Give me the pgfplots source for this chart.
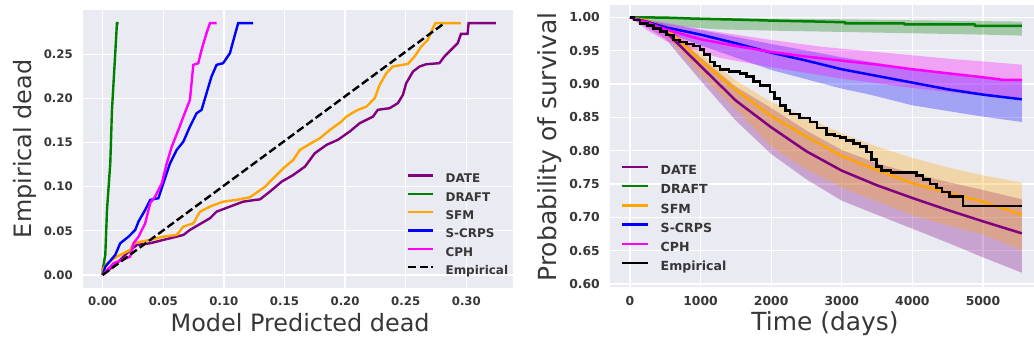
\documentclass[border=0pt]{standalone}
\usepackage{fontspec}
\setmainfont{DejaVu Sans}
\usepackage{pgfplots}
\pgfplotsset{compat=1.18}
\definecolor{bgcol}{HTML}{EAEAF2}
\definecolor{cDATE}{RGB}{128,0,128}
\definecolor{cDRAFT}{RGB}{0,128,0}
\definecolor{cSFM}{RGB}{255,165,0}
\definecolor{cSCRPS}{RGB}{0,0,255}
\definecolor{cCPH}{RGB}{255,0,255}
\definecolor{txt}{RGB}{55,55,55}
\pgfplotsset{
 sns/.style={
  scale only axis,
  axis background/.style={fill=bgcol},
  axis line style={draw=none},
  major tick length=0pt,
  grid=major,
  major grid style={white, line width=1.3bp},
  legend cell align=left,
  ticklabel style={text=txt, inner sep=0pt},
  yticklabel style={xshift=-10bp},
  xticklabel style={yshift=-9bp},
  label style={text=txt},
 }
}
\begin{document}
\begin{tikzpicture}
\path[use as bounding box] (0,0) rectangle (1034bp,346bp);
% ---------------- left panel ----------------
\begin{axis}[sns,
  at={(83bp,58.4bp)}, anchor=south west,
  width=430bp, height=277.6bp,
  xmin=-0.0162, xmax=0.3385, ymin=-0.0143, ymax=0.300,
  xtick={0,0.05,0.10,0.15,0.20,0.25,0.30},
  xticklabels={0.00,0.05,0.10,0.15,0.20,0.25,0.30},
  ytick={0,0.05,0.10,0.15,0.20,0.25},
  yticklabels={0.00,0.05,0.10,0.15,0.20,0.25},
  ticklabel style={font=\bfseries\fontsize{11.8}{14}\selectfont},
  xlabel={Model Predicted dead}, ylabel={Empirical dead},
  xlabel style={at={(axis description cs:0.505,-0.1275)}, anchor=center, font=\fontsize{24}{28}\selectfont},
  ylabel style={at={(axis description cs:-0.135,0.5)}, anchor=center, font=\fontsize{24}{28}\selectfont},
  legend image code/.code={\draw[#1] (0bp,4.3bp) -- (25bp,4.3bp);},
  legend style={draw=none, fill=none, at={(0.7535,0.4218)}, anchor=north west,
    inner sep=0pt, row sep=0pt, text=txt,
    font=\bfseries\fontsize{12}{14}\selectfont,
    nodes={text height=8.6bp, text depth=2.5bp, inner ysep=3.6bp, inner xsep=0pt},
    /tikz/every odd column/.append style={column sep=11bp}},
]
\addplot[cDATE, line width=2.4bp] coordinates {(0,0)(0.0118,0.0133)(0.020,0.0246)(0.0282,0.034)(0.0392,0.0359)(0.0501,0.0397)(0.0666,0.0453)(0.072,0.051)(0.0885,0.0642)(0.094,0.0717)(0.105,0.0774)(0.1159,0.083)(0.1299,0.0857)(0.138,0.0944)(0.1477,0.1057)(0.157,0.113)(0.1669,0.1227)(0.175,0.1378)(0.1847,0.1473)(0.194,0.153)(0.2038,0.1624)(0.212,0.1718)(0.223,0.1793)(0.227,0.187)(0.2367,0.1888)(0.2435,0.1945)(0.2477,0.2039)(0.2504,0.2171)(0.256,0.2303)(0.2614,0.236)(0.2669,0.2386)(0.2778,0.2398)(0.2819,0.2473)(0.2874,0.2549)(0.2929,0.2624)(0.2956,0.273)(0.301,0.273)(0.3019,0.2851)(0.3243,0.2851)};
\addlegendentry{DATE}
\addplot[cDRAFT, line width=2.4bp] coordinates {(0,0)(0,0.0057)(0.0022,0.0227)(0.0036,0.0737)(0.0063,0.1265)(0.0077,0.1869)(0.0104,0.2511)(0.0118,0.2851)(0.0132,0.2851)};
\addlegendentry{DRAFT}
\addplot[cSFM, line width=2.4bp] coordinates {(0,0)(0,0.0057)(0.0036,0.0133)(0.0118,0.0208)(0.0227,0.0283)(0.0255,0.0359)(0.0392,0.0397)(0.0501,0.0434)(0.0611,0.0453)(0.0666,0.0548)(0.0748,0.0585)(0.0803,0.0717)(0.0885,0.0774)(0.0994,0.083)(0.1104,0.085)(0.1216,0.0880)(0.134,0.1000)(0.1422,0.1114)(0.149,0.1208)(0.1572,0.1302)(0.1627,0.1416)(0.1696,0.1473)(0.1792,0.1548)(0.1874,0.1642)(0.197,0.1737)(0.2011,0.1793)(0.2093,0.1861)(0.2176,0.1907)(0.2244,0.2001)(0.2285,0.2152)(0.234,0.2284)(0.2394,0.236)(0.2518,0.239)(0.2573,0.2473)(0.2628,0.2586)(0.2683,0.2662)(0.271,0.2756)(0.2745,0.2851)(0.2956,0.2851)};
\addlegendentry{SFM}
\addplot[cSCRPS, line width=2.4bp] coordinates {(0,0)(0.0022,0.0094)(0.0104,0.0227)(0.0145,0.0359)(0.0214,0.0434)(0.0269,0.051)(0.0296,0.0605)(0.0351,0.0737)(0.0392,0.0850)(0.046,0.0869)(0.0501,0.1038)(0.0556,0.1265)(0.0611,0.1416)(0.0666,0.151)(0.072,0.1680)(0.0775,0.1831)(0.0816,0.1869)(0.0857,0.2058)(0.0898,0.2247)(0.094,0.2379)(0.0994,0.2398)(0.105,0.2511)(0.1091,0.2719)(0.1118,0.2851)(0.1241,0.2851)};
\addlegendentry{S-CRPS}
\addplot[cCPH, line width=2.4bp] coordinates {(0,0)(0.009,0.0133)(0.0227,0.0207)(0.0255,0.0359)(0.0296,0.0434)(0.0351,0.0585)(0.0392,0.0812)(0.0433,0.0887)(0.0488,0.1038)(0.0529,0.1265)(0.057,0.1453)(0.0625,0.1642)(0.0666,0.1793)(0.072,0.1982)(0.0748,0.2379)(0.0789,0.2398)(0.0816,0.2549)(0.0857,0.2738)(0.0885,0.2851)(0.094,0.2851)};
\addlegendentry{CPH}
\addplot[black, line width=2.4bp, dash pattern=on 8bp off 3.5bp] coordinates {(0,0)(0.2819,0.2851)};
\addlegendentry{Empirical}
\end{axis}
% ---------------- right panel ----------------
\begin{axis}[sns,
  at={(610bp,59.3bp)}, anchor=south west,
  width=424bp, height=282.1bp,
  xmin=-283, xmax=5723, ymin=0.596, ymax=1.019,
  xtick={0,1000,2000,3000,4000,5000},
  xticklabels={0,1000,2000,3000,4000,5000},
  ytick={0.6,0.65,0.7,0.75,0.8,0.85,0.9,0.95,1.0},
  yticklabels={0.60,0.65,0.70,0.75,0.80,0.85,0.90,0.95,1.00},
  ticklabel style={font=\bfseries\fontsize{12.4}{15}\selectfont},
  xlabel={Time (days)}, ylabel={Probability of survival},
  xlabel style={at={(axis description cs:0.507,-0.132)}, anchor=center, font=\fontsize{25}{29}\selectfont},
  ylabel style={at={(axis description cs:-0.1415,0.496)}, anchor=center, font=\fontsize{25}{29}\selectfont},
  legend image code/.code={\draw[#1] (0bp,4.5bp) -- (26bp,4.5bp);},
  legend style={draw=none, fill=none, at={(0.026,0.443)}, anchor=north west,
    inner sep=0pt, row sep=0pt, text=txt,
    font=\bfseries\fontsize{12.6}{15}\selectfont,
    nodes={text height=9bp, text depth=2.6bp, inner ysep=3.8bp, inner xsep=0pt},
    /tikz/every odd column/.append style={column sep=11bp}},
]
% confidence bands
\addplot[forget plot, draw=none, fill=cDATE, fill opacity=0.3] coordinates {(0,1)(500,0.988)(1000,0.94)(1500,0.896)(2000,0.864)(2500,0.83)(3000,0.801)(3500,0.781)(4000,0.766)(4500,0.753)(5000,0.741)(5550,0.727)(5550,0.617)(5000,0.640)(4500,0.662)(4000,0.683)(3400,0.708)(3000,0.725)(2500,0.757)(2000,0.795)(1500,0.845)(1000,0.905)(500,0.968)(0,1)} -- cycle;
\addplot[forget plot, draw=none, fill=cDRAFT, fill opacity=0.3] coordinates {(0,1)(1000,0.9995)(2000,0.998)(3000,0.997)(4000,0.9955)(5550,0.9935)(5550,0.9725)(5000,0.974)(4000,0.976)(3000,0.978)(2000,0.980)(1200,0.982)(700,0.986)(300,0.993)(0,1)} -- cycle;
\addplot[forget plot, draw=none, fill=cSFM, fill opacity=0.3] coordinates {(0,1)(500,0.99)(1000,0.946)(1500,0.905)(2000,0.873)(2500,0.85)(3000,0.826)(3500,0.806)(4000,0.789)(4500,0.775)(5000,0.763)(5550,0.752)(5550,0.651)(5000,0.674)(4500,0.688)(4000,0.703)(3500,0.724)(3000,0.745)(2500,0.772)(2000,0.806)(1500,0.862)(1000,0.913)(500,0.975)(0,1)} -- cycle;
\addplot[forget plot, draw=none, fill=cSCRPS, fill opacity=0.3] coordinates {(0,1)(500,0.99)(1000,0.981)(2000,0.96)(3000,0.94)(4000,0.923)(5000,0.910)(5550,0.904)(5550,0.843)(5000,0.851)(4000,0.868)(3400,0.884)(3000,0.893)(2000,0.921)(1000,0.958)(500,0.978)(0,1)} -- cycle;
\addplot[forget plot, draw=none, fill=cCPH, fill opacity=0.3] coordinates {(0,1)(500,0.992)(1000,0.982)(1500,0.974)(2000,0.966)(2700,0.956)(3500,0.948)(4500,0.938)(5550,0.929)(5550,0.876)(5000,0.882)(4000,0.894)(3000,0.908)(2000,0.925)(1275,0.939)(800,0.955)(500,0.965)(250,0.98)(0,1)} -- cycle;
% mean curves
\addplot[cDATE, line width=2.5bp] coordinates {(0,1)(250,0.994)(500,0.979)(750,0.953)(1000,0.927)(1500,0.875)(2000,0.835)(2500,0.799)(3000,0.770)(3500,0.748)(4000,0.729)(4500,0.711)(5000,0.694)(5550,0.676)};
\addlegendentry{DATE}
\addplot[cDRAFT, line width=2.5bp] coordinates {(0,1)(500,0.9995)(900,0.998)(1500,0.9965)(2000,0.995)(2691,0.9935)(3045,0.9925)(3050,0.991)(3880,0.991)(3890,0.9895)(4880,0.9895)(4890,0.987)(5550,0.987)};
\addlegendentry{DRAFT}
\addplot[cSFM, line width=2.5bp] coordinates {(0,1)(250,0.995)(500,0.984)(750,0.96)(1000,0.935)(1500,0.891)(2000,0.852)(2500,0.821)(3000,0.792)(3400,0.775)(4000,0.751)(4500,0.737)(5000,0.7235)(5550,0.704)};
\addlegendentry{SFM}
\addplot[cSCRPS, line width=2.5bp] coordinates {(0,1)(250,0.993)(500,0.985)(1000,0.974)(1500,0.961)(2000,0.947)(2500,0.935)(3000,0.922)(3500,0.912)(4000,0.902)(4500,0.892)(5000,0.884)(5550,0.877)};
\addlegendentry{S-CRPS}
\addplot[cCPH, line width=2.5bp] coordinates {(0,1)(250,0.992)(500,0.982)(1000,0.967)(1500,0.957)(2000,0.948)(2500,0.941)(3000,0.935)(3500,0.929)(4000,0.922)(4500,0.916)(5000,0.910)(5300,0.906)(5550,0.906)};
\addlegendentry{CPH}
\addplot[black, line width=2.5bp, const plot] coordinates {(0,1.000)(60,0.996)(142,0.991)(250,0.988)(330,0.9835)(430,0.979)(519,0.9735)(613,0.966)(700,0.963)(803,0.960)(900,0.957)(992,0.952)(1050,0.944)(1133,0.933)(1200,0.927)(1275,0.922)(1400,0.919)(1558,0.916)(1650,0.911)(1747,0.904)(1841,0.898)(1983,0.888)(2050,0.878)(2125,0.868)(2200,0.860)(2266,0.855)(2400,0.849)(2550,0.843)(2650,0.834)(2786,0.824)(2900,0.822)(2975,0.820)(3060,0.815)(3163,0.811)(3260,0.806)(3352,0.798)(3420,0.787)(3494,0.776)(3560,0.770)(3700,0.767)(4055,0.763)(4150,0.757)(4250,0.750)(4340,0.744)(4420,0.738)(4527,0.731)(4716,0.717)(5550,0.717)};
\addlegendentry{Empirical}
\end{axis}
\end{tikzpicture}
\end{document}
